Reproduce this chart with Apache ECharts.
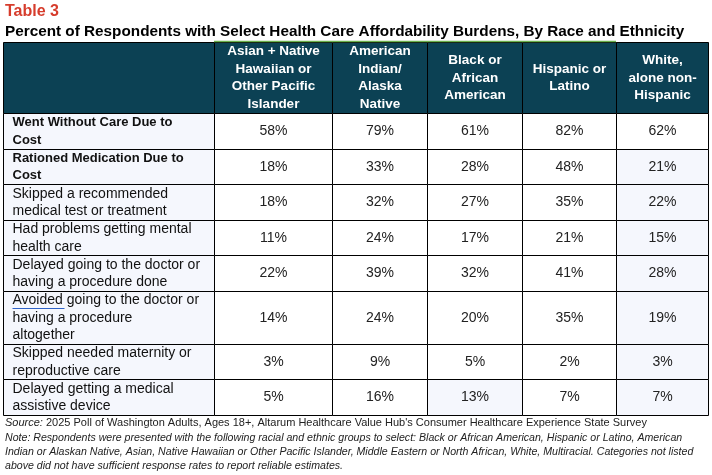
<!DOCTYPE html>
<html>
<head>
<meta charset="utf-8">
<script src="https://cdn.jsdelivr.net/npm/echarts@6/dist/echarts.min.js"></script>
<style>
  html, body { margin: 0; padding: 0; background: #fff; }
  #main { width: 712px; height: 475px; }
</style>
</head>
<body>
<div id="main"></div>
<script>
// column headers (race / ethnicity groups)
const groups = [
  "Asian + Native\nHawaiian or\nOther Pacific\nIslander",
  "American\nIndian/\nAlaska\nNative",
  "Black or\nAfrican\nAmerican",
  "Hispanic or\nLatino",
  "White,\nalone non-\nHispanic"
];

// row labels (affordability burdens)
const burdens = [
  "Went Without Care Due to\nCost",
  "Rationed Medication Due to\nCost",
  "Skipped a recommended\nmedical test or treatment",
  "Had problems getting mental\nhealth care",
  "Delayed going to the doctor or\nhaving a procedure done",
  "Avoided going to the doctor or\nhaving a procedure\naltogether",
  "Skipped needed maternity or\nreproductive care",
  "Delayed getting a medical\nassistive device"
];

// percent of respondents, one array per group
const asianNhpi = [58, 18, 18, 11, 22, 14, 3, 5];
const aian = [79, 33, 32, 24, 39, 24, 9, 16];
const black = [61, 28, 27, 17, 32, 20, 5, 13];
const hispanic = [82, 48, 35, 21, 41, 35, 2, 7];
const white = [62, 21, 22, 15, 28, 19, 3, 7];

const values = [asianNhpi, aian, black, hispanic, white];

// first two rows are the headline measures (bold)
const headlineRows = 2;

// layout
const colWidths = [211, 118, 95, 95, 94, 92];
const headerLines = 4;
const rowLines = [headerLines].concat(burdens.map((b) => b.split("\n").length));
const LINE_H = 17.5;

const cumulate = (arr) => {
  const out = [0];
  arr.forEach((v) => out.push(out[out.length - 1] + v));
  return out;
};
const colEdges = cumulate(colWidths);
const rowEdges = cumulate(rowLines);

const HEADER_BG = "#0c4154";
const SHADE = "#f5f7fd";
const FONT = "'Liberation Sans', Arial, sans-serif";

// cells: [col, row]; row 0 is header, col 0 is label column
const cells = [];
for (let r = 0; r <= burdens.length; r++) {
  for (let c = 0; c <= groups.length; c++) {
    cells.push([c, r]);
  }
}

const isShaded = (c, r) => {
  if (r === 0) return false;
  if (c === 0) return true;
  if (c === 5 && r >= 2) return true;
  if (c === 3 && r === burdens.length) return true;
  return false;
};

const cellText = (c, r) => {
  if (r === 0) return c === 0 ? "" : groups[c - 1];
  if (c === 0) return burdens[r - 1];
  return values[c - 1][r - 1] + "%";
};

const renderCell = (params, api) => {
  const c = api.value(0);
  const r = api.value(1);
  const p0 = api.coord([colEdges[c], rowEdges[r]]);
  const p1 = api.coord([colEdges[c + 1], rowEdges[r + 1]]);
  const x0 = Math.round(p0[0]) + 0.5;
  const y0 = Math.round(p0[1]) + 0.5;
  const x1 = Math.round(p1[0]) + 0.5;
  const y1 = Math.round(p1[1]) + 0.5;
  const header = r === 0;
  const label = c === 0 && !header;

  let fill = "#ffffff";
  if (header) fill = HEADER_BG;
  else if (isShaded(c, r)) fill = SHADE;

  const textStyle = {
    text: cellText(c, r),
    fontFamily: FONT,
    lineHeight: LINE_H,
    verticalAlign: "middle",
  };
  let tx, ty = (y0 + y1) / 2;
  if (header) {
    Object.assign(textStyle, {
      fill: "#ffffff", fontSize: 13.5, fontWeight: "bold", align: "center",
    });
    tx = (x0 + x1) / 2;
  } else if (label) {
    const bold = r <= headlineRows;
    Object.assign(textStyle, {
      fill: "#111111", fontSize: bold ? 13 : 14,
      fontWeight: bold ? "bold" : "normal", align: "left",
    });
    tx = x0 + 9;
  } else {
    Object.assign(textStyle, {
      fill: "#222222", fontSize: 14, align: "center",
    });
    tx = (x0 + x1) / 2;
  }

  const children = [
    {
      type: "rect",
      shape: { x: x0, y: y0, width: x1 - x0, height: y1 - y0 },
      style: { fill: fill, stroke: "#000000", lineWidth: 1 },
    },
    {
      type: "text",
      x: tx,
      y: ty,
      style: textStyle,
    },
  ];

  // the source marks "Avoided" with a blue underline
  if (label && cellText(c, r).indexOf("Avoided") === 0) {
    const firstLineMid = ty - (rowLines[r] - 1) / 2 * LINE_H;
    const uy = Math.round(firstLineMid + 7) + 0.5;
    children.push({
      type: "line",
      shape: { x1: tx, y1: uy, x2: tx + 52, y2: uy },
      style: { stroke: "#2f63c8", lineWidth: 1 },
    });
  }

  return { type: "group", children: children };
};

const chart = echarts.init(document.getElementById("main"), null, { renderer: "canvas" });

const option = {
  animation: false,
  backgroundColor: "#ffffff",
  title: [
    {
      text: "Table 3",
      left: 5, top: 4, padding: 0,
      textStyle: { color: "#d63c2c", fontSize: 16, fontWeight: "bold", fontFamily: FONT },
    },
    {
      text: "Percent of Respondents with Select Health Care Affordability Burdens, By Race and Ethnicity",
      left: 5, top: 24, padding: 0,
      textStyle: { color: "#000000", fontSize: 15.3, fontWeight: "bold", fontFamily: FONT },
    },
    {
      text: "{i|Source:} 2025 Poll of Washington Adults, Ages 18+, Altarum Healthcare Value Hub's Consumer Healthcare Experience State Survey",
      left: 5, top: 417, padding: 0,
      textStyle: {
        color: "#222222", fontSize: 11, fontWeight: "normal", fontFamily: FONT,
        rich: { i: { fontStyle: "italic", fontWeight: "normal", fontSize: 11, fontFamily: FONT, color: "#222222" } },
      },
    },
    {
      text: "Note: Respondents were presented with the following racial and ethnic groups to select: Black or African American, Hispanic or Latino, American\nIndian or Alaskan Native, Asian, Native Hawaiian or Other Pacific Islander, Middle Eastern or North African, White, Multiracial. Categories not listed\nabove did not have sufficient response rates to report reliable estimates.",
      left: 5, top: 431, padding: 0,
      textStyle: {
        color: "#222222", fontSize: 10.6, fontStyle: "italic", fontWeight: "normal",
        fontFamily: FONT, lineHeight: 14,
      },
    },
  ],
  grid: { left: 3, top: 42, width: colEdges[colEdges.length - 1], height: 373 },
  xAxis: {
    type: "value", min: 0, max: colEdges[colEdges.length - 1], show: false,
  },
  yAxis: {
    type: "value", min: 0, max: rowEdges[rowEdges.length - 1], inverse: true, show: false,
  },
  graphic: [
    {
      type: "line",
      shape: { x1: 214, y1: 41.5, x2: 616, y2: 41.5 },
      style: { stroke: "#6ab04c", lineWidth: 1.5 },
      z: 100,
    },
  ],
  series: [
    {
      type: "custom",
      renderItem: renderCell,
      data: cells,
      clip: false,
      silent: true,
    },
  ],
};

chart.setOption(option);
</script>
</body>
</html>
